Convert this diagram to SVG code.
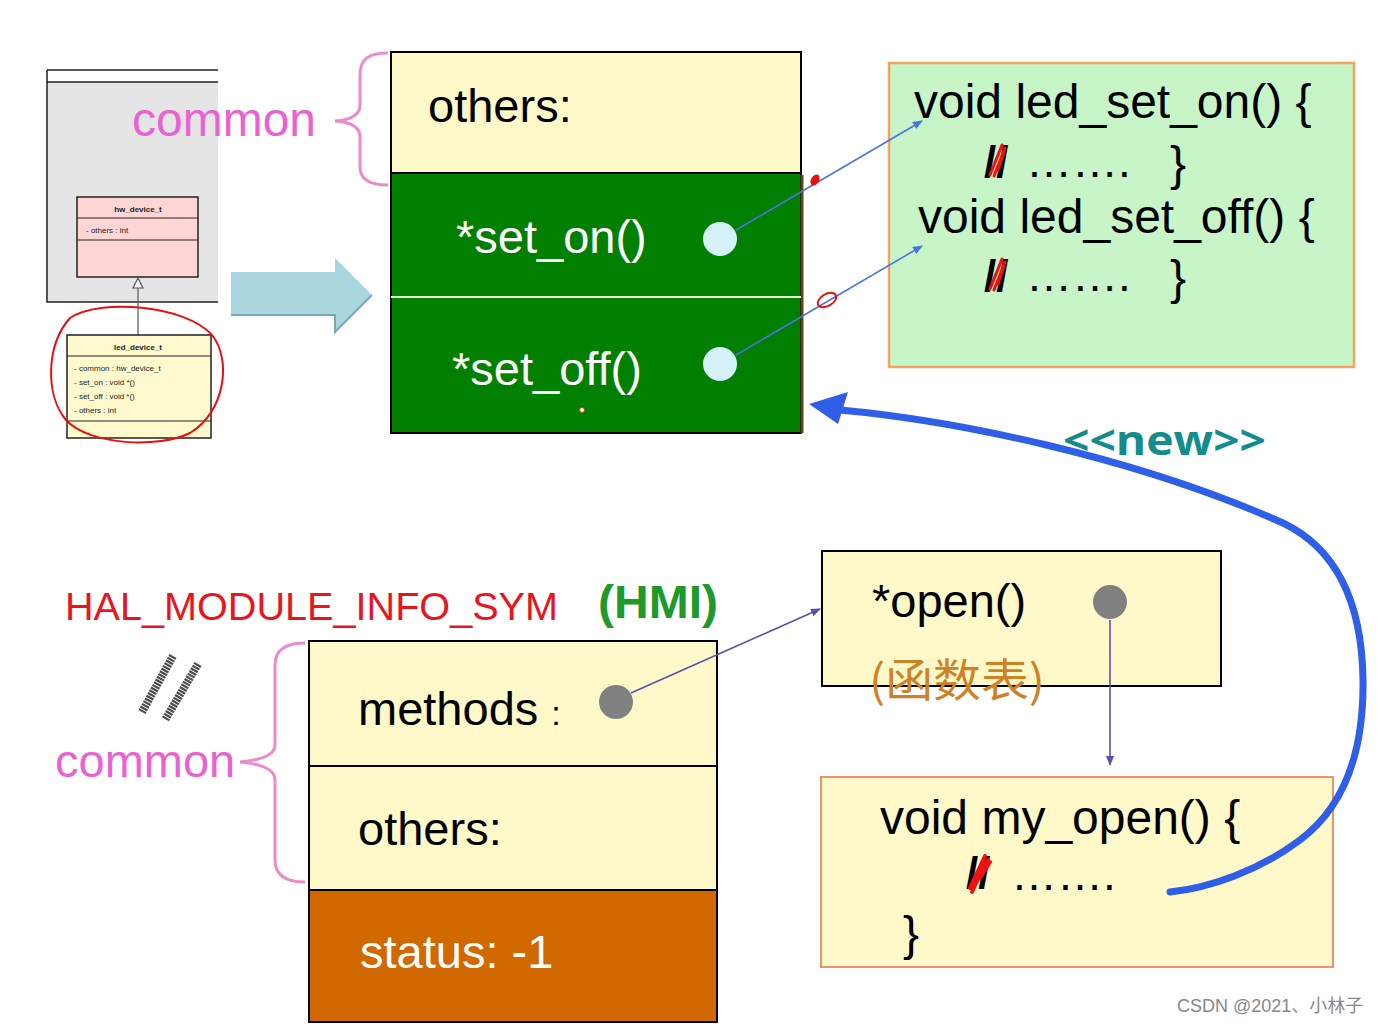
<svg xmlns="http://www.w3.org/2000/svg" width="1391" height="1024" viewBox="0 0 1391 1024">
<style>
.t{font-family:"Liberation Sans",Arial,sans-serif;fill:#000}
.big{font-size:47px}
.w{fill:#fff}
.uml{font-family:"Liberation Sans",Arial,sans-serif;font-size:8px;fill:#222}
.yel{fill:#fff9c9;stroke:#000;stroke-width:2}
.brace{fill:none;stroke:#ee8acb;stroke-width:3}
.blue{stroke:#4a74e0;stroke-width:1.6;fill:none}
.pur{stroke:#5a50b0;stroke-width:1.6;fill:none}
.scrib{fill:none;stroke:#f01010;stroke-width:3;stroke-linecap:round}
</style>
<defs>
<marker id="ab" markerWidth="10" markerHeight="8" refX="9" refY="4" orient="auto" markerUnits="userSpaceOnUse"><path d="M0,0 L10,4 L0,8 z" fill="#4a74e0"/></marker>
<marker id="ap" markerWidth="10" markerHeight="8" refX="9" refY="4" orient="auto" markerUnits="userSpaceOnUse"><path d="M0,0 L10,4 L0,8 z" fill="#5a50b0"/></marker>
</defs>
<rect width="1391" height="1024" fill="#fff"/>

<g id="uml">
<rect x="47" y="82" width="171" height="220" fill="#e5e5e5"/>
<path d="M47,70 H218 M47,82 H218 M47,70 V302 H218" fill="none" stroke="#222" stroke-width="1.5"/>
<rect x="77" y="197" width="121" height="80" fill="#ffd5d5" stroke="#222" stroke-width="1.5"/>
<path d="M77,218 H198 M77,240 H198" stroke="#222" stroke-width="1"/>
<text class="uml" x="138" y="212" text-anchor="middle" font-weight="bold">hw_device_t</text>
<text class="uml" x="86" y="233">- others : int</text>
<path d="M138,288 V335" stroke="#555" stroke-width="1.2"/>
<path d="M138,278 L133,288 L143,288 z" fill="#fff" stroke="#555" stroke-width="1.2"/>
<rect x="67" y="335" width="144" height="103" fill="#fffacd" stroke="#222" stroke-width="1.5"/>
<path d="M67,356 H211 M67,421 H211" stroke="#222" stroke-width="1"/>
<text class="uml" x="138" y="350" text-anchor="middle" font-weight="bold">led_device_t</text>
<text class="uml" x="74" y="371">- common : hw_device_t</text>
<text class="uml" x="74" y="385">- set_on : void *()</text>
<text class="uml" x="74" y="399">- set_off : void *()</text>
<text class="uml" x="74" y="413">- others : int</text>
<path d="M70,318 C100,298 185,305 212,335 C232,360 225,412 190,433 C160,448 90,446 66,420 C45,395 46,345 70,318" fill="none" stroke="#e81010" stroke-width="2"/>
</g>

<g id="common-top">
<text class="t" x="132" y="136" font-size="48" style="fill:#ea62d2">common</text>
<path class="brace" d="M388,53 C370,53 360,58 360,75 L360,105 C360,115 350,120 335,121 C350,122 360,127 360,137 L360,167 C360,180 370,185 388,185"/>
</g>

<g id="big-arrow">
<polygon points="231,272 335,272 335,258 372,295 335,332 335,315 231,315" fill="#a9d6df"/>
<path d="M231,315 H335 V332 L372,295" fill="none" stroke="#7aaab5" stroke-width="2"/>
</g>

<g id="led-struct">
<rect x="391" y="173" width="410" height="260" fill="#007f00" stroke="#000" stroke-width="2"/>
<path d="M802,175 V433" stroke="#5a4a10" stroke-width="3"/>
<rect x="391" y="52" width="410" height="121" class="yel"/>
<path d="M391,297 H801" stroke="#e8f4d0" stroke-width="2"/>
<text class="t big" x="428" y="122">others:</text>
<text class="t big w" x="456" y="253">*set_on()</text>
<text class="t big w" x="452" y="385">*set_off()</text>
<circle cx="720" cy="239" r="17" fill="#d5f2f8"/>
<circle cx="720" cy="364" r="17" fill="#d5f2f8"/>
<circle cx="582" cy="410" r="2.5" fill="#fff" stroke="#c04000" stroke-width="1"/>
</g>

<g id="led-funcs">
<rect x="889" y="63" width="465" height="304" fill="#c8f5c8" stroke="#f4a460" stroke-width="2.5"/>
<text class="t" x="914" y="118" font-size="48">void led_set_on() {</text>
<text class="t" x="984" y="177" font-size="44" font-weight="bold">//</text>
<path class="scrib" d="M990,175 L1002,145 M994,176 L1005,148 M998,170 L1004,152"/>
<text class="t" x="1026" y="177" font-size="46">……. </text>
<text class="t" x="1170" y="180" font-size="48">}</text>
<text class="t" x="918" y="233" font-size="48">void led_set_off() {</text>
<text class="t" x="984" y="291" font-size="44" font-weight="bold">//</text>
<path class="scrib" d="M990,289 L1002,259 M994,290 L1005,262 M998,284 L1004,266"/>
<text class="t" x="1026" y="291" font-size="46">……. </text>
<text class="t" x="1170" y="294" font-size="48">}</text>
</g>

<g id="hal-label">
<text class="t" x="65" y="620" font-size="39" style="fill:#e8141e" textLength="493" lengthAdjust="spacingAndGlyphs">HAL_MODULE_INFO_SYM</text>
<text class="t" x="598" y="618" font-size="46" font-weight="bold" style="fill:#1e9a2a" textLength="120" lengthAdjust="spacingAndGlyphs">(HMI)</text>
<path d="M173,656 L142,712 M198,664 L165,720" stroke="#4a4a4a" stroke-width="8" stroke-dasharray="2.2 0.9"/>
<text class="t" x="55" y="777" font-size="47" style="fill:#ea62d2">common</text>
<path class="brace" d="M305,643 C285,643 275,650 275,665 L275,745 C275,755 262,760 240,762 C262,764 275,769 275,780 L275,860 C275,875 285,882 305,882"/>
</g>

<g id="hmi-struct">
<rect x="309" y="641" width="408" height="125" class="yel"/>
<rect x="309" y="766" width="408" height="124" class="yel"/>
<rect x="309" y="890" width="408" height="132" fill="#d26900" stroke="#000" stroke-width="2"/>
<text class="t big" x="358" y="725">methods <tspan font-size="34">:</tspan></text>
<text class="t big" x="358" y="845">others:</text>
<text class="t big w" x="360" y="968">status: -1</text>
<circle cx="616" cy="702" r="17" fill="#808080"/>
</g>

<g id="open-table">
<rect x="822" y="551" width="399" height="135" class="yel"/>
<text class="t" x="872" y="617" font-size="47">*open()</text>
<circle cx="1110" cy="602" r="17" fill="#808080"/>
<text x="869" y="697" font-size="45" font-family="'Noto Sans CJK SC',sans-serif" fill="#cf8126" textLength="176" lengthAdjust="spacingAndGlyphs">(函数表)</text>
</g>

<g id="my-open">
<rect x="821" y="777" width="512" height="190" fill="#fff9c9" stroke="#e8956a" stroke-width="2"/>
<text class="t" x="880" y="834" font-size="48">void my_open() {</text>
<text class="t" x="966" y="888" font-size="44" font-weight="bold">//</text>
<path class="scrib" d="M970,888 L985,856 M975,884 L988,860 M980,878 L990,862 M972,892 L982,870" style="stroke-width:4"/>
<text class="t" x="1011" y="890" font-size="46">……. </text>
<text class="t" x="903" y="950" font-size="48">}</text>
</g>

<g id="connectors">
<line class="blue" x1="736" y1="230" x2="922" y2="121" marker-end="url(#ab)"/>
<line class="blue" x1="736" y1="355" x2="922" y2="246" marker-end="url(#ab)"/>
<ellipse cx="815" cy="180" rx="4" ry="6" transform="rotate(30 815 180)" fill="#e81010"/>
<ellipse cx="827" cy="300" rx="10" ry="6" transform="rotate(-30 827 300)" fill="none" stroke="#e81010" stroke-width="2"/>
<line class="pur" x1="631" y1="693" x2="820" y2="609" marker-end="url(#ap)"/>
<line class="pur" x1="1110" y1="620" x2="1110" y2="765" marker-end="url(#ap)"/>
<path d="M1170,892 C1210,888 1260,870 1300,840 C1340,810 1364,760 1363,680 C1362,600 1335,548 1283,523 C1130,455 950,420 840,410" fill="none" stroke="#2f5fe8" stroke-width="7" stroke-linecap="round"/>
<polygon points="809,404 848,392 838,424" fill="#2f5fe8"/>
<text x="1063" y="455" font-size="42" font-weight="bold" font-family="'Open Sans',sans-serif" fill="#138c8c" textLength="203" lengthAdjust="spacingAndGlyphs">&lt;&lt;new&gt;&gt;</text>
</g>

<text x="1177" y="1012" font-size="18" font-family="'Liberation Sans','Noto Sans CJK SC',sans-serif" fill="#888">CSDN @2021、小林子</text>
</svg>
